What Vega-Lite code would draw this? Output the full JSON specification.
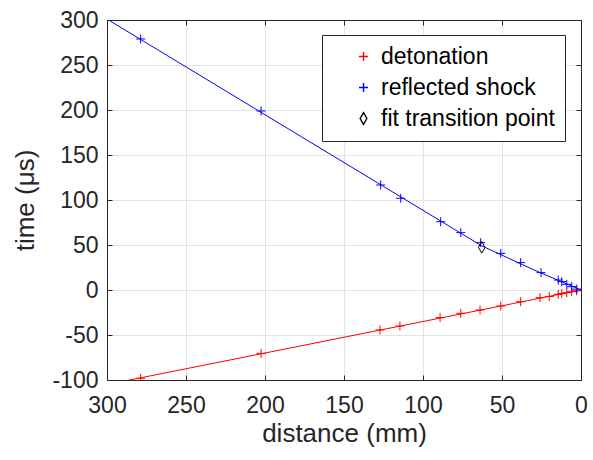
{
  "$schema": "https://vega.github.io/schema/vega-lite/v6.json",
  "width": 474,
  "height": 360,
  "autosize": {"type": "none"},
  "padding": {"left": 107, "top": 20, "right": 12, "bottom": 80},
  "config": {
    "font": "Liberation Sans",
    "view": {"stroke": "#262626", "strokeWidth": 1},
    "axis": {
      "labelFont": "Liberation Sans",
      "titleFont": "Liberation Sans",
      "labelFontSize": 23,
      "titleFontSize": 26,
      "titleFontWeight": "normal",
      "labelColor": "#262626",
      "titleColor": "#262626",
      "domainColor": "#262626",
      "tickColor": "#262626",
      "gridColor": "#e3e3e3",
      "gridOpacity": 1,
      "tickSize": -5,
      "labelFlush": false,
      "labelOverlap": false
    }
  },
  "datasets": {
    "pts": [
      {"d": 278.7, "t": -98.1, "series": "detonation"},
      {"d": 202.5, "t": -70.4, "series": "detonation"},
      {"d": 127.2, "t": -44.4, "series": "detonation"},
      {"d": 114.6, "t": -40.0, "series": "detonation"},
      {"d": 89.2, "t": -30.7, "series": "detonation"},
      {"d": 76.1, "t": -25.9, "series": "detonation"},
      {"d": 63.9, "t": -22.2, "series": "detonation"},
      {"d": 50.8, "t": -17.8, "series": "detonation"},
      {"d": 38.2, "t": -13.0, "series": "detonation"},
      {"d": 25.9, "t": -8.5, "series": "detonation"},
      {"d": 20.1, "t": -7.2, "series": "detonation"},
      {"d": 14.4, "t": -4.8, "series": "detonation"},
      {"d": 12.2, "t": -3.9, "series": "detonation"},
      {"d": 9.0, "t": -3.0, "series": "detonation"},
      {"d": 5.9, "t": -1.9, "series": "detonation"},
      {"d": 2.7, "t": -0.9, "series": "detonation"},
      {"d": 278.7, "t": 278.9, "series": "reflected shock"},
      {"d": 202.5, "t": 198.9, "series": "reflected shock"},
      {"d": 126.8, "t": 116.7, "series": "reflected shock"},
      {"d": 114.1, "t": 101.9, "series": "reflected shock"},
      {"d": 88.8, "t": 75.9, "series": "reflected shock"},
      {"d": 76.1, "t": 63.7, "series": "reflected shock"},
      {"d": 63.5, "t": 52.6, "series": "reflected shock"},
      {"d": 50.8, "t": 40.7, "series": "reflected shock"},
      {"d": 38.2, "t": 30.4, "series": "reflected shock"},
      {"d": 25.3, "t": 19.3, "series": "reflected shock"},
      {"d": 14.4, "t": 11.1, "series": "reflected shock"},
      {"d": 12.2, "t": 9.3, "series": "reflected shock"},
      {"d": 9.0, "t": 6.3, "series": "reflected shock"},
      {"d": 5.9, "t": 3.7, "series": "reflected shock"},
      {"d": 2.7, "t": 1.0, "series": "reflected shock"},
      {"d": 62.8, "t": 47.4, "series": "fit transition point"}
    ],
    "fits": [
      {"d": 0, "t": 0, "series": "detonation"},
      {"d": 300, "t": -105, "series": "detonation"},
      {"d": 300, "t": 301, "series": "reflected shock"},
      {"d": 62.8, "t": 49.0, "series": "reflected shock"},
      {"d": 30, "t": 22.5, "series": "reflected shock"},
      {"d": 0, "t": 0, "series": "reflected shock"}
    ]
  },
  "layer": [
    {
      "data": {"name": "fits"},
      "transform": [{"filter": "datum.series === 'detonation'"}],
      "mark": {"type": "line", "clip": true, "strokeWidth": 1, "color": "#ff0000"},
      "encoding": {
        "x": {"field": "d", "type": "quantitative", "scale": {"domain": [0, 300], "reverse": true, "nice": false},
              "axis": {"values": [0, 50, 100, 150, 200, 250, 300], "title": "distance (mm)", "labelPadding": 19,
                       "titleBaseline": "alphabetic", "titleY": 61}},
        "y": {"field": "t", "type": "quantitative", "scale": {"domain": [-100, 300], "nice": false, "zero": false},
              "axis": {"values": [-100, -50, 0, 50, 100, 150, 200, 250, 300], "title": "time (μs)", "labelPadding": 14,
                       "labelExpr": "datum.value + ''", "titleX": -74, "titleY": 180, "titleAngle": -90, "titleBaseline": "alphabetic", "titleAlign": "center"}}
      }
    },
    {
      "data": {"name": "fits"},
      "transform": [{"filter": "datum.series === 'reflected shock'"}],
      "mark": {"type": "line", "clip": true, "strokeWidth": 1, "color": "#0000ff"},
      "encoding": {
        "x": {"field": "d", "type": "quantitative", "axis": null},
        "y": {"field": "t", "type": "quantitative", "axis": null}
      }
    },
    {
      "data": {"name": "pts"},
      "mark": {"type": "point", "filled": false, "strokeWidth": 1, "opacity": 1, "clip": true},
      "encoding": {
        "x": {"field": "d", "type": "quantitative", "axis": {"orient": "top", "values": [0, 50, 100, 150, 200, 250, 300], "labels": false, "title": null, "grid": false, "domain": true}},
        "y": {"field": "t", "type": "quantitative", "axis": {"orient": "right", "values": [-100, -50, 0, 50, 100, 150, 200, 250, 300], "labels": false, "title": null, "grid": false, "domain": true}},
        "color": {"field": "series", "type": "nominal",
                  "scale": {"domain": ["detonation", "reflected shock", "fit transition point"], "range": ["#ff0000", "#0000ff", "#000000"]},
                  "legend": {"orient": "none", "legendX": 215, "legendY": 15, "title": null, "labelFontSize": 23, "labelColor": "#000000", "labelLimit": 400,
                             "strokeColor": "#262626", "fillColor": "#ffffff", "padding": 10, "rowPadding": 7, "symbolOffset": 20, "labelOffset": 6,
                             "symbolSize": 80, "symbolStrokeWidth": 1.4, "labelFont": "Liberation Sans"}},
        "shape": {"field": "series", "type": "nominal",
                  "scale": {"domain": ["detonation", "reflected shock", "fit transition point"], "range": ["M-1,0H1M0,-1V1", "M-1,0H1M0,-1V1", "M0,-1.3L0.75,0L0,1.3L-0.75,0Z"]}},
        "size": {"value": 80}
      }
    }
  ],
  "resolve": {"axis": {"x": "independent", "y": "independent"}, "scale": {"x": "shared", "y": "shared"}}
}
